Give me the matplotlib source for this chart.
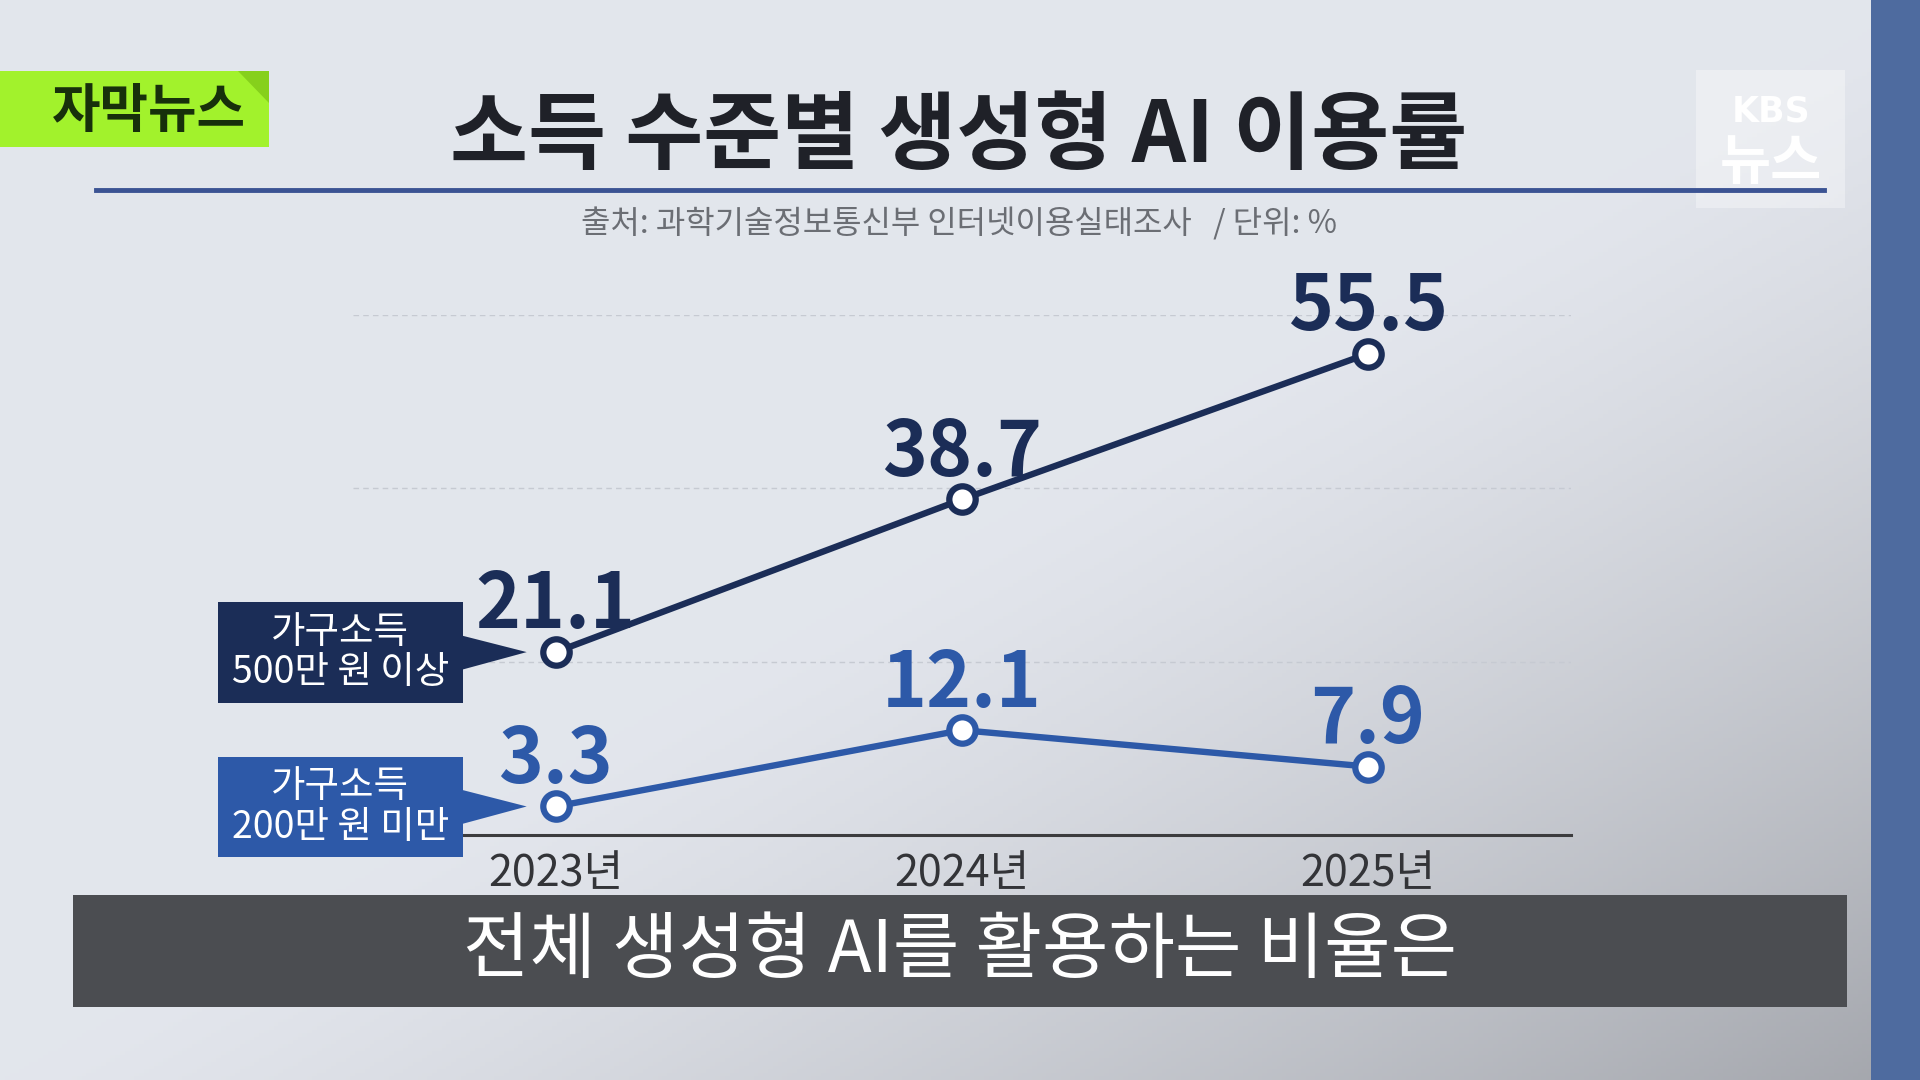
import numpy as np
import matplotlib.pyplot as plt
from matplotlib.patches import Rectangle, Polygon
from matplotlib.lines import Line2D

plt.rcParams['font.family'] = ['Noto Sans CJK KR', 'DejaVu Sans']

# 데이터
years = ['2023년', '2024년', '2025년']
high_income = [21.1, 38.7, 55.5]   # 가구소득 500만 원 이상
low_income = [3.3, 12.1, 7.9]      # 가구소득 200만 원 미만
high_label = '가구소득\n500만 원 이상'
low_label = '가구소득\n200만 원 미만'
title = '소득 수준별 생성형 AI 이용률'
source = '출처: 과학기술정보통신부 인터넷이용실태조사   / 단위: %'
caption = '전체 생성형 AI를 활용하는 비율은'
tag = '자막뉴스'

navy = '#1b2d57'
blue = '#2d59a8'

# 레퍼런스 화면 좌표(1568x882) -> figure 비율
W, H = 1568, 882
def fx(x):
    return x / W
def fy(y):
    return 1 - y / H

fig = plt.figure(figsize=(19.2, 10.8), dpi=100)

# 배경 그라데이션
bg = fig.add_axes([0, 0, 1, 1], zorder=-10)
gx, gy = np.meshgrid(np.linspace(0, 1, 400), np.linspace(0, 1, 300))
t = np.clip(gx + gy - 1.0, 0, 1) ** 1.3
c0 = np.array([0.890, 0.902, 0.929])
c1 = np.array([0.640, 0.650, 0.675])
img = c0[None, None, :] * (1 - t[..., None]) + c1[None, None, :] * t[..., None]
bg.imshow(img, extent=[0, 1, 0, 1], aspect='auto', origin='upper')
bg.set_xlim(0, 1)
bg.set_ylim(0, 1)
bg.axis('off')

def rect(x0, y0, x1, y1, **kw):
    fig.patches.append(Rectangle((fx(x0), fy(y1)), fx(x1) - fx(x0), fy(y0) - fy(y1),
                                 transform=fig.transFigure, **kw))

# 오른쪽 파란 띠
rect(1528, 0, 1568, 882, color='#4e6b9f', lw=0)

# 자막뉴스 태그
rect(0, 58, 220, 120, color='#a2f22c', lw=0)
fig.patches.append(Polygon([(fx(194), fy(58)), (fx(220), fy(58)), (fx(220), fy(84))],
                           closed=True, transform=fig.transFigure, color='#86d01c', lw=0))
fig.text(fx(122), fy(91), tag, ha='center', va='center', fontsize=38,
         fontweight='heavy', color='#17300b')

# KBS 뉴스 로고
rect(1385, 57, 1507, 170, color='white', alpha=0.35, lw=0)
fig.text(fx(1446), fy(91), 'KBS', ha='center', va='center', fontsize=25,
         fontweight='bold', color='white', family=['DejaVu Sans'])
fig.text(fx(1446), fy(133), '뉴스', ha='center', va='center', fontsize=40,
         fontweight='bold', color='white')

# 제목
fig.text(fx(783), fy(112), title, ha='center', va='center', fontsize=61,
         fontweight='heavy', color='#1f2128')
fig.add_artist(Line2D([fx(78), fx(1490)], [fy(155), fy(155)], color='#3b5393', lw=3.5))
fig.text(fx(783), fy(183), source, ha='center', va='center', fontsize=23, color='#6b6e74')

# 차트
ax = fig.add_axes([fx(288), fy(682), fx(1283) - fx(288), fy(257) - fy(682)])
ax.patch.set_alpha(0)
x = np.arange(len(years))
ax.set_xlim(-0.5, 2.5)
ax.set_ylim(0, 60)
for s in ['top', 'left', 'right']:
    ax.spines[s].set_visible(False)
ax.spines['bottom'].set_color('#3c3c3e')
ax.spines['bottom'].set_linewidth(2.2)
ax.set_yticks([20, 40, 60])
ax.yaxis.grid(True, linestyle=(0, (4, 3)), color='#c6cad2', lw=1)
ax.tick_params(left=False, labelleft=False, bottom=False, pad=9)
ax.set_xticks(x, years)
for lab in ax.get_xticklabels():
    lab.set_fontsize(31)
    lab.set_color('#333438')

for vals, col in [(high_income, navy), (low_income, blue)]:
    ax.plot(x, vals, color=col, lw=4.6, marker='o', ms=19, mfc='white',
            mec=col, mew=4.5, clip_on=False, zorder=4)
    for i, v in zip(x, vals):
        ax.annotate(f'{v}', (i, v), xytext=(0, 17), textcoords='offset points',
                    ha='center', va='baseline', fontsize=55, fontweight='heavy',
                    color=col, zorder=5)

# 범례 상자 (말풍선)
fig.canvas.draw()
to_fig = fig.transFigure.inverted()
for vals, lab, col, (y0, y1) in [(high_income, high_label, navy, (492, 574)),
                                 (low_income, low_label, blue, (618, 700))]:
    rect(178, y0, 378, y1, color=col, lw=0)
    px, py = ax.transData.transform((x[0], vals[0]))
    tip = to_fig.transform((px - 29, py))
    ym = (y0 + y1) / 2
    fig.patches.append(Polygon([(fx(377), fy(ym - 14)), (fx(377), fy(ym + 14)), tuple(tip)],
                               closed=True, transform=fig.transFigure, color=col, lw=0))
    fig.text(fx(278), fy(ym), lab, ha='center', va='center', fontsize=27,
             color='white', linespacing=1.05)

# 하단 자막
rect(60, 731, 1508, 822, color='#4b4d51', lw=0)
fig.text(fx(784), fy(777), caption, ha='center', va='center', fontsize=52, color='white')

fig.savefig('out.png', dpi=100)
